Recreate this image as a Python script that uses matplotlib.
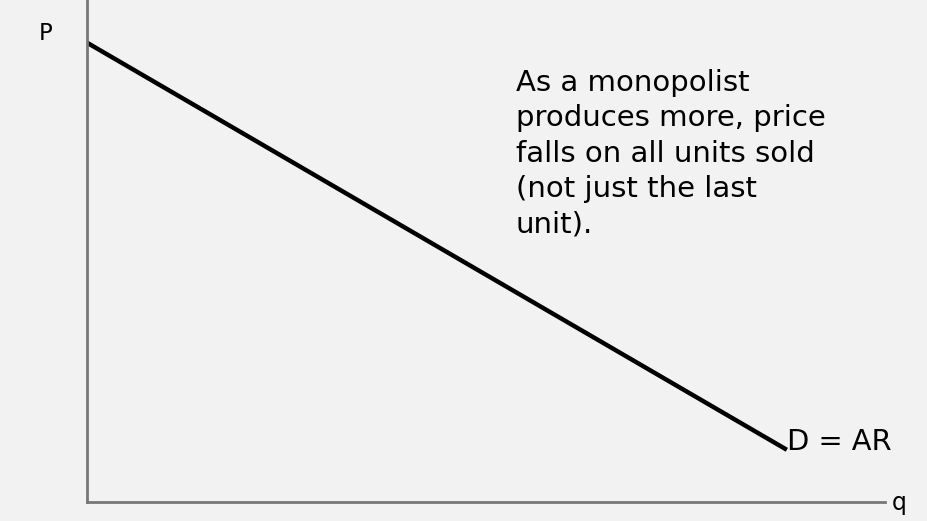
import matplotlib
matplotlib.use("Agg")
import matplotlib.pyplot as plt

# data
demand_q = [0.0, 8.77]
demand_p = [9.15, 1.04]
curve_label = "D = AR"
x_label = "q"
y_label = "P"
note = "As a monopolist\nproduces more, price\nfalls on all units sold\n(not just the last\nunit)."

bg = "#f2f2f2"
fig = plt.figure(figsize=(9.28, 5.21), dpi=100, facecolor=bg)
ax = fig.add_axes([87/928, 1-502/521, (885-87)/928, 502/521])
ax.set_facecolor(bg)
ax.set_xlim(0, 10)
ax.set_ylim(0, 10)
for s in ["top", "right"]:
    ax.spines[s].set_visible(False)
for s in ["left", "bottom"]:
    ax.spines[s].set_color("#777777")
    ax.spines[s].set_linewidth(2)
ax.set_xticks([])
ax.set_yticks([])

ax.plot(demand_q, demand_p, color="black", lw=3.2, solid_capstyle="butt")
ax.text(demand_q[1], demand_p[1], curve_label, fontsize=20.8, ha="left", va="baseline", color="black")

fig.text(46/928, 1-33/521, y_label, fontsize=16.5, ha="center", va="center")
fig.text(892/928, 1-503/521, x_label, fontsize=17, ha="left", va="center")
fig.text(516/928, 1-69/521, note, fontsize=21, ha="left", va="top", linespacing=1.33)

fig.savefig("out.png", dpi=100, facecolor=bg)
